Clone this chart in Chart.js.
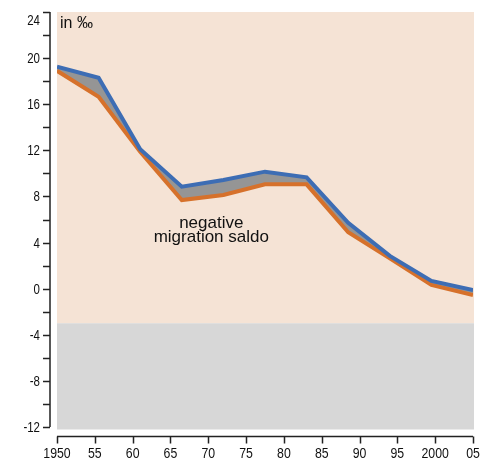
<!DOCTYPE html>
<html>
<head>
<meta charset="utf-8">
<script src="https://cdn.jsdelivr.net/npm/chart.js@4"></script>
<style>
  html, body { margin: 0; padding: 0; background: #fff; }
  #wrap { width: 490px; height: 460px; }
</style>
</head>
<body>
<div id="wrap"><canvas id="rateChart" width="490" height="460"></canvas></div>
<script>
        // points sit every 5.5 years
        const years = [1950, 1955.5, 1961, 1966.5, 1972, 1977.5, 1983, 1988.5, 1994, 1999.5, 2005];
        const upperRate = [19.25, 18.3, 12.1, 8.85, 9.43, 10.15, 9.66, 5.72, 2.84, 0.67, -0.11];
        const lowerRate = [18.9, 16.65, 11.88, 7.69, 8.13, 9.05, 9.05, 4.89, 2.63, 0.32, -0.55];
        const shadeBelow = -3;

        const yTicks = [-12, -8, -4, 0, 4, 8, 12, 16, 20, 24];
        const xTicks = [1950, 1955, 1960, 1965, 1970, 1975, 1980, 1985, 1990, 1995, 2000, 2005];
        const xTickLabels = ['1950', '55', '60', '65', '70', '75', '80', '85', '90', '95', '2000', '05'];
        const unitLabel = 'in \u2030';
        const noteLines = ['negative', 'migration saldo'];

        const pts = (vals) => vals.map((v, i) => ({ x: years[i], y: v }));

        // narrow text: no condensed face installed, so squeeze Arial-like font
        function narrowText(ctx, txt, x, y, align, size) {
            const sq = 0.82;
            ctx.save();
            ctx.font = size + "px 'Liberation Sans', Arial, sans-serif";
            ctx.textAlign = align;
            ctx.textBaseline = 'alphabetic';
            ctx.translate(x, y);
            ctx.scale(sq, 1);
            ctx.fillText(txt, 0, 0);
            ctx.restore();
        }

        const decor = {
            id: 'decor',
            beforeDraw(chart) {
                const { ctx, chartArea: a, scales: { y } } = chart;
                const cut = y.getPixelForValue(shadeBelow);
                ctx.save();
                ctx.fillStyle = '#f5e3d5';
                ctx.fillRect(a.left, a.top, a.right - a.left + 1, cut - a.top);
                ctx.fillStyle = '#d7d7d7';
                ctx.fillRect(a.left, cut, a.right - a.left + 1, a.bottom + 2.5 - cut);
                ctx.restore();
            },
            afterDraw(chart) {
                const { ctx, chartArea: a, scales: { x, y } } = chart;
                ctx.save();
                ctx.strokeStyle = '#222';
                ctx.lineWidth = 1.5;
                // y axis, detached from plot
                const ax = a.left - 7;
                ctx.beginPath();
                ctx.moveTo(ax, y.getPixelForValue(24));
                ctx.lineTo(ax, y.getPixelForValue(-12));
                for (let v = -12; v <= 24; v += 2) {
                    const py = Math.round(y.getPixelForValue(v)) + 0.5;
                    ctx.moveTo(ax - 7, py);
                    ctx.lineTo(ax, py);
                }
                ctx.stroke();
                // x axis
                const ay = a.bottom + 9.5;
                ctx.beginPath();
                ctx.moveTo(x.getPixelForValue(1950), ay);
                ctx.lineTo(x.getPixelForValue(2005), ay);
                xTicks.forEach((v) => {
                    const px = Math.round(x.getPixelForValue(v)) + 0.5;
                    ctx.moveTo(px, ay);
                    ctx.lineTo(px, ay + 7);
                });
                ctx.stroke();

                ctx.fillStyle = '#111';
                yTicks.forEach((v) => {
                    const py = Math.max(y.getPixelForValue(v) + 5, 25);
                    narrowText(ctx, String(v), ax - 10, py, 'right', 14);
                });
                xTicks.forEach((v, i) => {
                    narrowText(ctx, xTickLabels[i], x.getPixelForValue(v), a.bottom + 31, 'center', 15);
                });

                ctx.font = "16px 'Liberation Sans', Arial, sans-serif";
                ctx.textBaseline = 'alphabetic';
                ctx.textAlign = 'left';
                ctx.fillText(unitLabel, a.left + 3, a.top + 16);
                ctx.font = "17px 'Liberation Sans', Arial, sans-serif";
                ctx.textAlign = 'center';
                const cx = x.getPixelForValue(1970.4);
                ctx.fillText(noteLines[0], cx, y.getPixelForValue(5.26));
                ctx.fillText(noteLines[1], cx, y.getPixelForValue(4.02));
                ctx.restore();
            }
        };

        const data = {
            datasets: [{
                label: 'upper',
                data: pts(upperRate),
                borderColor: '#3d6db4',
                borderWidth: 4,
                pointRadius: 0,
                tension: 0,
                fill: false
            }, {
                label: 'lower',
                data: pts(lowerRate),
                borderColor: '#d6712b',
                backgroundColor: '#959595',
                borderWidth: 4,
                pointRadius: 0,
                tension: 0,
                fill: '-1'
            }]
        };

        const config = {
            type: 'line',
            data: data,
            options: {
                responsive: false,
                animation: false,
                events: [],
                layout: { padding: { top: 12, right: 17, left: 57, bottom: 33 } },
                plugins: { legend: { display: false }, tooltip: { enabled: false } },
                scales: {
                    x: { type: 'linear', display: false, min: 1950, max: 2005 },
                    y: { display: false, min: -12, max: 24 }
                }
            },
            plugins: [decor]
        };

        const myChart = new Chart(
            document.getElementById('rateChart'),
            config
        );
</script>
</body>
</html>
